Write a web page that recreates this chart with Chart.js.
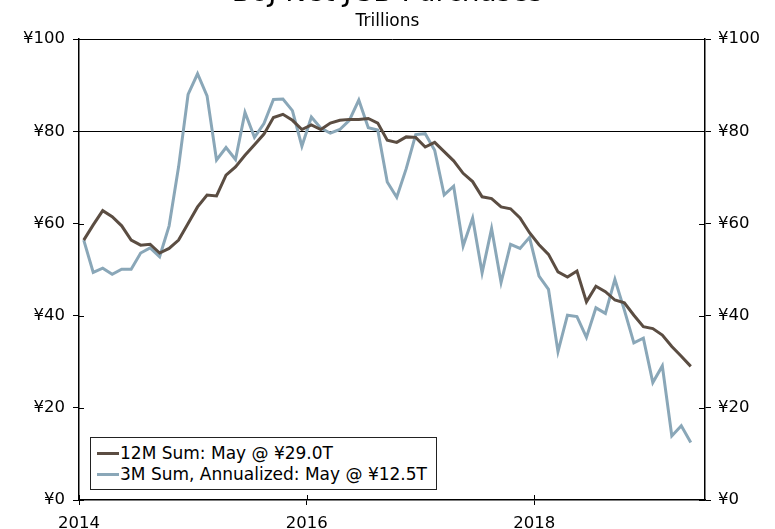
<!DOCTYPE html>
<html>
<head>
<meta charset="utf-8">
<script src="https://cdn.jsdelivr.net/npm/chart.js@4"></script>
<style>
html,body{margin:0;padding:0;background:#fff;}
#wrap{position:relative;width:775px;height:529px;overflow:hidden;}
#legend{position:absolute;left:90px;top:437px;width:345px;height:51px;border:1px solid #222;background:#fff;
 font-family:"DejaVu Sans",Verdana,sans-serif;font-size:17px;color:#000;box-sizing:content-box;}
#legend .row{position:absolute;left:6px;height:21px;line-height:21px;white-space:nowrap;}
#legend .sw{display:inline-block;width:22px;height:3px;vertical-align:middle;margin-right:1px;position:relative;top:-1px;}
</style>
</head>
<body>
<div id="wrap">
<canvas id="c" width="775" height="529"></canvas>
<div id="legend"></div>
</div>
<script>
// ---- data (monthly, Jan 2014 .. May 2019) ----
const startYear = 2014;
const sum12M = [56.4,59.7,62.8,61.5,59.5,56.4,55.3,55.5,53.6,54.6,56.4,60.0,63.6,66.2,66.0,70.5,72.3,74.8,77.1,79.4,83.0,83.7,82.4,80.4,81.4,80.4,81.8,82.4,82.6,82.6,82.8,81.8,78.1,77.6,78.8,78.7,76.6,77.6,75.6,73.6,70.9,69.1,65.8,65.4,63.6,63.2,61.2,58.0,55.4,53.3,49.5,48.4,49.7,43.0,46.4,45.2,43.4,42.8,40.1,37.6,37.2,35.8,33.3,31.2,29.0];
const sum3MAnn = [56.4,49.4,50.3,49.0,50.1,50.1,53.6,54.7,52.8,59.5,72.3,88.0,92.5,87.7,73.8,76.5,73.9,84.1,78.7,81.7,86.9,87.0,84.5,76.8,83.1,80.7,79.6,80.4,82.4,86.8,80.8,80.3,69.0,65.7,71.9,79.3,79.5,75.9,66.2,68.1,55.1,61.2,49.3,58.9,47.2,55.5,54.6,57.0,48.6,45.7,32.2,40.1,39.8,35.3,41.7,40.5,47.9,41.2,34.1,35.1,25.5,29.1,13.9,16.1,12.5];
const seriesLabels = ["12M Sum: May @ \u00A529.0T","3M Sum, Annualized: May @ \u00A512.5T"];
const seriesColors = ["#5b4d42","#8aa7b8"];
const xTickLabels = ["2014","2016","2018"];
const xTickMonths = [0,24,48];
const yTickValues = [0,20,40,60,80,100];
const titleText = "BoJ Net JGB Purchases";
const subtitleText = "Trillions";

// month index (mid-month positioning)
const monthPos = sum12M.map((_, i) => i + 0.5);
const toPts = arr => arr.map((v, i) => ({x: monthPos[i], y: v}));

const FONT = "'DejaVu Sans', Verdana, sans-serif";

const crossTicks = {
  id: 'crossTicks',
  afterDatasetsDraw(chart) {
    const ctx = chart.ctx, a = chart.chartArea;
    ctx.save();
    ctx.strokeStyle = '#000';
    ctx.lineWidth = 1;
    const yl = chart.scales.y, yr = chart.scales.y2, x = chart.scales.x;
    ctx.beginPath();
    yl.ticks.forEach((t, i) => { const p = Math.round(yl.getPixelForTick(i)) + 0.5; ctx.moveTo(a.left, p); ctx.lineTo(a.left + 5, p); });
    yr.ticks.forEach((t, i) => { const p = Math.round(yr.getPixelForTick(i)) + 0.5; ctx.moveTo(a.right - 6, p); ctx.lineTo(a.right, p); });
    x.ticks.forEach((t, i) => { const p = Math.round(x.getPixelForTick(i)) + 0.5; ctx.moveTo(p, a.bottom - 5); ctx.lineTo(p, a.bottom); });
    ctx.stroke();
    ctx.restore();
  }
};

const yTicksCb = v => '\u00A5' + v;

new Chart(document.getElementById('c'), {
  type: 'line',
  data: {
    datasets: [
      {label: seriesLabels[0], data: toPts(sum12M), borderColor: seriesColors[0], borderWidth: 3, pointRadius: 0, tension: 0, order: 1},
      {label: seriesLabels[1], data: toPts(sum3MAnn), borderColor: seriesColors[1], borderWidth: 3, pointRadius: 0, tension: 0, order: 2}
    ]
  },
  options: {
    responsive: false,
    animation: false,
    devicePixelRatio: 1,
    layout: {padding: {left: 0, right: 0, top: 0, bottom: 0}},
    plugins: {
      legend: {display: false},
      tooltip: {enabled: false},
      title: {display: true, text: titleText, color: '#000', font: {family: FONT, size: 28, weight: 'normal', lineHeight: 1.2}, padding: {top: -22.8, bottom: 0}},
      subtitle: {display: true, text: subtitleText, color: '#000', font: {family: FONT, size: 17, weight: 'normal', lineHeight: 1.2}, padding: {top: 1, bottom: 7}}
    },
    scales: {
      x: {
        type: 'linear', min: 0, max: 66,
        afterBuildTicks: s => { s.ticks = xTickMonths.map(v => ({value: v})); },
        afterFit: s => { s.height = 29; },
        ticks: {callback: (v) => xTickLabels[xTickMonths.indexOf(v)], color: '#000', font: {family: FONT, size: 16.5}, padding: 9, maxRotation: 0, autoSkip: false},
        grid: {drawOnChartArea: false, tickLength: 5, tickColor: '#000'},
        border: {color: '#000', width: 1.5}
      },
      y: {
        position: 'left', min: 0, max: 100,
        afterBuildTicks: s => { s.ticks = yTickValues.map(v => ({value: v})); },
        afterFit: s => { s.width = 79; },
        ticks: {callback: yTicksCb, color: '#000', font: {family: FONT, size: 16.5}, padding: 8},
        grid: {color: c => (c.tick && (c.tick.value === 80 || c.tick.value === 100)) ? '#000' : 'rgba(0,0,0,0)', lineWidth: 1, tickLength: 6, tickColor: '#000'},
        border: {color: '#000', width: 1.5}
      },
      y2: {
        position: 'right', min: 0, max: 100,
        afterBuildTicks: s => { s.ticks = yTickValues.map(v => ({value: v})); },
        afterFit: s => { s.width = 70; },
        ticks: {callback: yTicksCb, color: '#000', font: {family: FONT, size: 16.5}, padding: 7},
        grid: {drawOnChartArea: false, tickLength: 6, tickColor: '#000'},
        border: {color: '#000', width: 1.5}
      }
    }
  },
  plugins: [crossTicks]
});

// HTML legend (real text)
const lg = document.getElementById('legend');
seriesLabels.forEach((lab, i) => {
  const r = document.createElement('div');
  r.className = 'row';
  r.style.top = (5 + i * 21) + 'px';
  const sw = document.createElement('span');
  sw.className = 'sw';
  sw.style.background = seriesColors[i];
  r.appendChild(sw);
  r.appendChild(document.createTextNode(lab));
  lg.appendChild(r);
});
</script>
</body>
</html>
